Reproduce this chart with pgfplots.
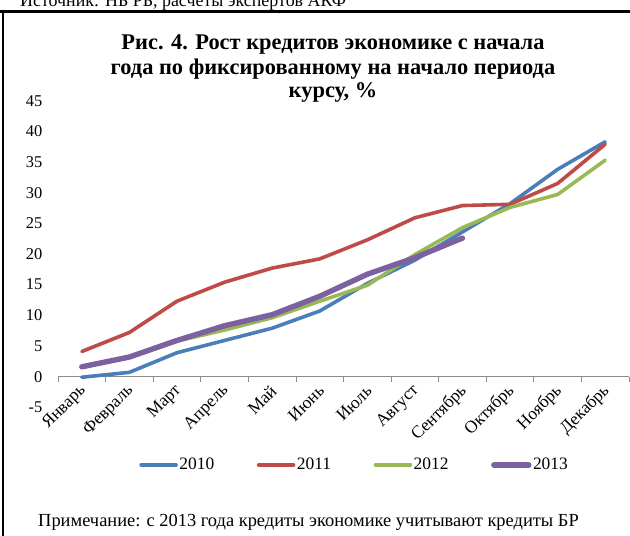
\documentclass[border=0pt]{standalone}
\usepackage{fontspec}
\setmainfont{Liberation Serif}
\usepackage{pgfplots}
\pgfplotsset{compat=1.18}

\definecolor{c2010}{HTML}{4A7EBB}
\definecolor{c2011}{HTML}{BE4B48}
\definecolor{c2012}{HTML}{98B954}
\definecolor{c2013}{HTML}{7D60A0}

\begin{document}
\begin{tikzpicture}[x=1bp,y=1bp]
\useasboundingbox (0,0) rectangle (630,536);
% frame of the figure box
\draw[line width=2.6bp] (0,524.5) -- (630,524.5);
\draw[line width=2.6bp] (3,525.8) -- (3,0);
% tail of the preceding source line
\node[anchor=base west, inner sep=0pt, font=\fontsize{18}{21}\selectfont] at (20,529) {Источник: НБ РБ, расчеты экспертов АКФ};
% title
\node[anchor=base, inner sep=0pt, font=\fontsize{22.5}{24}\selectfont\bfseries] at (333,486) {Рис. 4. Рост кредитов экономике с начала};
\node[anchor=base, inner sep=0pt, font=\fontsize{22.5}{24}\selectfont\bfseries] at (333,461) {года по фиксированному на начало периода};
\node[anchor=base, inner sep=0pt, font=\fontsize{22.5}{24}\selectfont\bfseries] at (333,438) {курсу, \%};
% note
\node[anchor=base west, inner sep=0pt, font=\fontsize{18.5}{21}\selectfont] at (38,9) {Примечание: с 2013 года кредиты экономике учитывают кредиты БР};

\begin{axis}[
  at={(58bp,128.7bp)}, anchor=south west,
  scale only axis, width=571bp, height=306.6bp,
  xmin=-0.5, xmax=11.5, ymin=-5, ymax=45,
  axis x line=middle, axis y line=left,
  x axis line style={-, draw=black!45, line width=0.8bp},
  y axis line style={draw=none},
  ytick={-5,0,...,45},
  ytick style={draw=none},
  /pgf/number format/assume math mode=true,
  yticklabel style={font=\fontsize{16.5}{19}\selectfont, anchor=east, xshift=-8bp},
  xtick={0,...,11},
  xticklabels={Январь,Февраль,Март,Апрель,Май,Июнь,Июль,Август,Сентябрь,Октябрь,Ноябрь,Декабрь},
  major x tick style={draw=none},
  minor xtick={-0.5,0.5,...,11.5},
  minor x tick style={draw=black!45, line width=0.8bp},
  minor tick length=5bp,
  tick align=outside,
  xticklabel style={font=\fontsize{17.5}{20}\selectfont, yshift=-5bp, xshift=4bp, rotate=45, anchor=east},
  clip=false,
  legend columns=4,
  legend style={at={(0.519,-0.188)}, anchor=center, draw=none, fill=none,
    font=\fontsize{17.5}{20}\selectfont,
    nodes={inner sep=1.5bp},
    /tikz/every odd column/.append style={column sep=0bp},
    /tikz/every even column/.append style={column sep=41bp}},
  legend image code/.code={\draw[#1] (0bp,0bp) -- (35bp,0bp);},
  every axis plot/.append style={line join=round, line cap=round},
]
\addplot[c2010, line width=3.6bp] coordinates {
  (0,-0.1) (1,0.7) (2,3.9) (3,5.9) (4,7.9) (5,10.7) (6,15.2) (7,19.0) (8,23.6) (9,28.2) (10,33.8) (11,38.3)};
\addlegendentry{2010}
\addplot[c2011, line width=3.6bp] coordinates {
  (0,4.1) (1,7.2) (2,12.3) (3,15.4) (4,17.7) (5,19.2) (6,22.3) (7,25.9) (8,27.9) (9,28.1) (10,31.5) (11,37.9)};
\addlegendentry{2011}
\addplot[c2012, line width=3.6bp] coordinates {
  (0,1.5) (1,3.1) (2,5.8) (3,7.6) (4,9.6) (5,12.3) (6,14.9) (7,19.9) (8,24.3) (9,27.6) (10,29.7) (11,35.3)};
\addlegendentry{2012}
\addplot[c2013, line width=5.4bp] coordinates {
  (0,1.6) (1,3.2) (2,5.9) (3,8.3) (4,10.1) (5,13.1) (6,16.7) (7,19.4) (8,22.6)};
\addlegendentry{2013}
\end{axis}
\end{tikzpicture}
\end{document}
